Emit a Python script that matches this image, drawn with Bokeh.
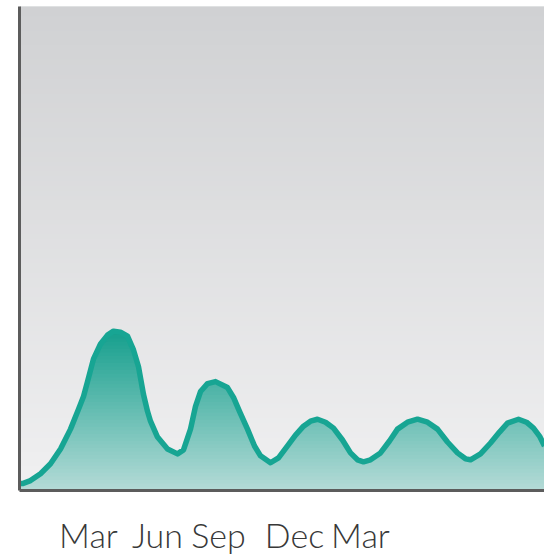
import numpy as np
from bokeh.plotting import figure
from bokeh.models import Range1d, FixedTicker
from bokeh.embed import file_html
from bokeh.resources import INLINE

# Data (x: day index, y: value)
days = [0, 3, 11, 21, 31, 41, 51, 59, 64, 68, 74, 81, 88, 94, 101, 108, 114, 119,
        124, 128, 131, 138, 148, 158, 164, 171, 176, 181, 188, 196, 208, 214, 220,
        228, 235, 241, 251, 259, 268, 276, 284, 291, 298, 306, 314, 323, 331, 338,
        344, 351, 361, 370, 378, 388, 398, 408, 418, 428, 438, 446, 451, 461, 471,
        480, 488, 499, 507, 514, 520, 525]
values = [7, 7, 10, 17, 27, 42, 62, 82, 95, 110, 133, 148, 157, 161, 160, 156, 142, 125,
          97, 80, 70, 54, 42, 37, 41, 62, 85, 100, 108, 110, 104, 94, 80,
          62, 45, 35, 28, 33, 45, 56, 65, 70, 72, 69, 63, 51, 38, 31,
          29, 31, 38, 50, 62, 69, 72, 69, 62, 49, 38, 32, 31, 37, 48,
          59, 68, 72, 69, 63, 55, 45]
tick_days = [69, 138, 199, 275, 341]
tick_labels = ["Mar", "Jun", "Sep", "Dec", "Mar"]

X_MAX = 525
Y_MAX = 489

p = figure(width=544, height=557, output_backend="svg", toolbar_location=None,
           x_range=Range1d(0, X_MAX), y_range=Range1d(0, Y_MAX),
           min_border_left=19, min_border_right=0, min_border_top=6, min_border_bottom=0)
p.outline_line_color = None
p.grid.visible = False
p.background_fill_color = "#e0e1e2"
p.border_fill_color = "white"


def lerp(c1, c2, t):
    a = np.array([int(c1[i:i + 2], 16) for i in (1, 3, 5)], dtype=float)
    b = np.array([int(c2[i:i + 2], 16) for i in (1, 3, 5)], dtype=float)
    c = a + (b - a) * t
    return "#%02x%02x%02x" % tuple(int(round(v)) for v in c)


# background gradient
nb = 100
edges = np.linspace(0, Y_MAX, nb + 1)
bg_bottom, bg_top, bg_left, bg_right, bg_col = [], [], [], [], []
for i in range(nb):
    t = (i + 0.5) / nb
    bg_bottom.append(edges[i])
    bg_top.append(edges[i + 1] + 1.5)
    bg_left.append(0)
    bg_right.append(X_MAX)
    bg_col.append(lerp("#f0f0f1", "#d0d1d3", t))
p.quad(left=bg_left, right=bg_right, bottom=bg_bottom, top=bg_top,
       fill_color=bg_col, line_color=None)

# area gradient (drawn as stacked bands clipped to the curve)
vals = np.array(values, dtype=float)
vmax = vals.max()
na = 45
aedges = np.linspace(0, vmax, na + 1)
for i in range(na):
    lo, hi = aedges[i], aedges[i + 1] + 2.0
    t = (i + 0.5) / na
    p.varea(x=days, y1=np.minimum(vals, lo), y2=np.minimum(vals, hi),
            fill_color=lerp("#b5dbd7", "#159f8d", t))

p.line(days, values, line_width=5.5, line_color="#17a593", line_join="round")

# axes
for ax in p.yaxis:
    ax.ticker = FixedTicker(ticks=[])
    ax.major_label_text_font_size = "0px"
    ax.major_tick_line_color = None
    ax.minor_tick_line_color = None
    ax.major_tick_out = 0
    ax.major_label_standoff = 0
    ax.axis_line_width = 3
    ax.axis_line_color = "#5c5c5c"

for ax in p.xaxis:
    ax.ticker = FixedTicker(ticks=tick_days)
    ax.major_label_overrides = {d: l for d, l in zip(tick_days, tick_labels)}
    ax.major_tick_line_color = None
    ax.minor_tick_line_color = None
    ax.major_tick_out = 0
    ax.major_tick_in = 0
    ax.major_label_standoff = 23
    ax.major_label_text_font = "Lato Light, Lato"
    ax.major_label_text_font_size = "34px"
    ax.major_label_text_color = "#383838"
    ax.axis_line_width = 3
    ax.axis_line_color = "#5c5c5c"

open("out.html", "w").write(file_html(p, INLINE))
